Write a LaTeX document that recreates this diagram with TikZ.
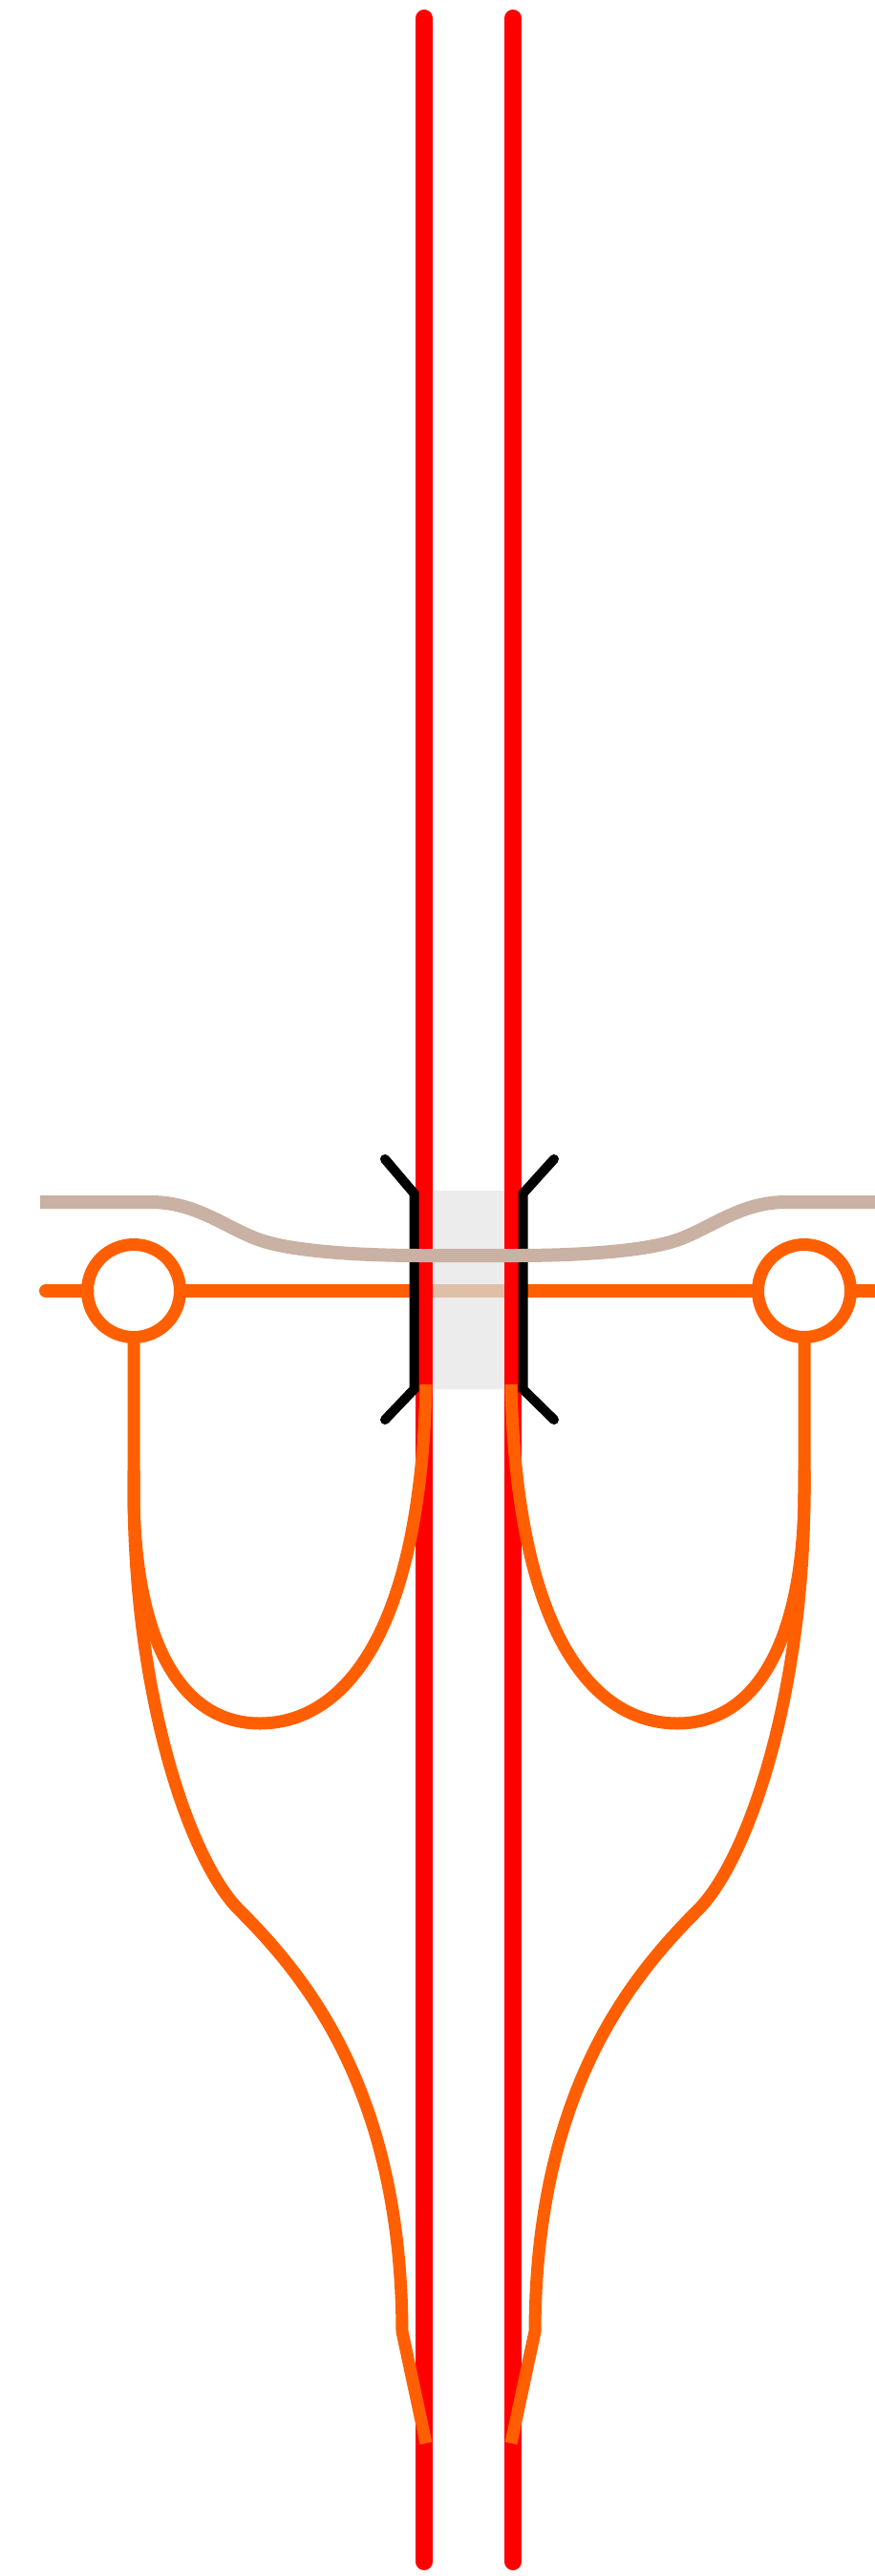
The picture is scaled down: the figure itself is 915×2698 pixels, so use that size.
\documentclass[tikz,border=0pt]{standalone}
\definecolor{wire}{HTML}{FF5F00}
\definecolor{rail}{HTML}{FF0000}
\definecolor{tan1}{HTML}{C9B1A3}
\definecolor{pale}{HTML}{E0BFA8}
\definecolor{gland}{HTML}{ECECEC}
\newlength{\pxu}\setlength{\pxu}{0.01cm}
\tikzset{
 railline/.style={draw=rail,line width=18\pxu,line cap=round},
 wireline/.style={draw=wire,line width=14\pxu,line cap=round},
 thinwire/.style={draw=wire,line width=13\pxu,line cap=butt},
 tanline/.style={draw=tan1,line width=14\pxu,line cap=butt},
 clamp/.style={draw=black,line width=10\pxu,line cap=round,line join=miter},
 ring/.style={circle,draw=wire,line width=13\pxu,fill=white,minimum size=97\pxu,inner sep=0pt,outer sep=0pt},
}
\begin{document}
\begin{tikzpicture}[x=0.01cm,y=-0.01cm]
\useasboundingbox[fill=white] (0,0) rectangle (915,2698);
% gland
\node[fill=gland,draw=none,minimum width=74\pxu,minimum height=208\pxu,inner sep=0pt] (g) at (491,1351) {};
% pale passage of the wire
\draw[draw=pale,line width=14\pxu] (g.west |- 0,1352) -- (g.east |- 0,1352);
% ring terminals
\node[ring] (cl) at (140,1352) {};
\node[ring] (cr) at (842,1352) {};
\coordinate (wl) at (48,1352);
\coordinate (wla) at (434,1352);
\coordinate (wra) at (547,1352);
\coordinate (wr) at (925,1352);
\draw[wireline] (wl) -- (cl.west);
\draw[wireline,line cap=butt] (cl.east) -- (wla);
\draw[wireline,line cap=butt] (cr.west) -- (wra);
\draw[wireline,line cap=butt] (cr.east) -- (wr);
% rails
\coordinate (rlt) at (444,19); \coordinate (rlb) at (444,2683);
\coordinate (rrt) at (537,19); \coordinate (rrb) at (537,2683);
\draw[railline] (rlt) -- (rlb);
\draw[railline] (rrt) -- (rrb);
% clamps
\draw[clamp] (403,1214) -- (433.5,1250) -- (433.5,1455) -- (403,1487);
\draw[clamp] (580,1214) -- (547.5,1250) -- (547.5,1455) -- (580,1487);
% tan line
\draw[tanline] (42,1259) -- (158,1259) .. controls (205,1259) and (235,1285) .. (270,1298)
  .. controls (305,1311) and (380,1315) .. (440,1315) -- (541,1315)
  .. controls (601,1315) and (676,1311) .. (711,1298)
  .. controls (746,1285) and (776,1259) .. (823,1259) -- (925,1259);
% left branches
\draw[thinwire] (cl.south) -- (140,1560)
  .. controls (140,1720) and (190,1805) .. (272,1805)
  .. controls (355,1805) and (440,1720) .. (446,1450);
\draw[thinwire] (140,1540) -- (140,1560)
  .. controls (140,1780) and (200,1950) .. (250,2000)
  .. controls (320,2070) and (420,2190) .. (421,2442) -- (446,2559);
% right branches
\draw[thinwire] (cr.south) -- (842,1560)
  .. controls (842,1720) and (791,1805) .. (709,1805)
  .. controls (626,1805) and (541,1720) .. (535,1450);
\draw[thinwire] (842,1540) -- (842,1560)
  .. controls (842,1780) and (781,1950) .. (731,2000)
  .. controls (661,2070) and (561,2190) .. (560,2442) -- (535,2559);
\end{tikzpicture}
\end{document}
